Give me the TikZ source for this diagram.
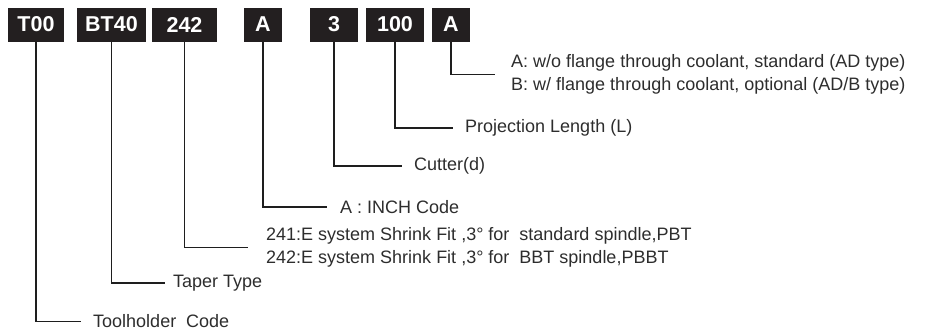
\documentclass[tikz,border=0pt]{standalone}
\usepackage{fontspec}
\setmainfont{Liberation Sans}
\usepackage{tikz}
\usetikzlibrary{positioning}
\definecolor{codeblack}{RGB}{35,31,32}
\definecolor{leadgrey}{RGB}{30,30,30}
\definecolor{txtgrey}{RGB}{45,45,45}

\begin{document}
\begin{tikzpicture}[
    x=1pt, y=-1pt,
    codebox/.style={
        rectangle, fill=codeblack, inner sep=0pt,
        minimum height=34pt,
        font=\fontsize{21.5}{21.5}\selectfont\bfseries,
        text=white
    },
    lead/.style={
        line width=1.8pt, leadgrey
    },
    lbl/.style={
        anchor=west, inner sep=0pt, align=left,
        font=\fontsize{18}{23}\selectfont, text=txtgrey
    }
]
\useasboundingbox (0,0) rectangle (928,330);

% code blocks
\node[codebox, minimum width=56pt] (holder) at (36,24.5) {T00};
\node[codebox, minimum width=69pt] (taper) at (111.5,24.5) {BT40};
\node[codebox, minimum width=65pt] (system) at (184.5,24.5) {242};
\node[codebox, minimum width=38pt] (inch) at (263,24.5) {A};
\node[codebox, minimum width=48pt] (cutter) at (334,24.5) {3};
\node[codebox, minimum width=58pt] (length) at (395,24.5) {100};
\node[codebox, minimum width=38pt] (flange) at (451,24.5) {A};

% explanations
\node[lbl] (holderlbl) at (93,321.5) {Toolholder~ Code};
\node[lbl] (taperlbl) at (173,283) {Taper Type};
\node[lbl] (systemlbl) at (266,247.5)
    {241:E system Shrink Fit ,3° for~ standard spindle,PBT\\
     242:E system Shrink Fit ,3° for~ BBT spindle,PBBT};
\node[lbl] (inchlbl) at (340,207) {A : INCH Code};
\node[lbl] (cutterlbl) at (414,166) {Cutter(d)};
\node[lbl] (lengthlbl) at (465,128) {Projection Length (L)};
\node[lbl] (flangelbl) at (511,74.5)
    {A: w/o flange through coolant, standard (AD type)\\
     B: w/ flange through coolant, optional (AD/B type)};

\draw[lead, shorten >=12pt] (holder.south) |- (holderlbl.west);
\draw[lead, shorten >=8pt] (taper.south) |- (taperlbl.west);
\draw[lead, shorten >=18pt] (system.south) |- (systemlbl.west);
\draw[lead, shorten >=13pt] (inch.south) |- (inchlbl.west);
\draw[lead, shorten >=12pt] (cutter.south) |- (cutterlbl.west);
\draw[lead, shorten >=12pt] (length.south) |- (lengthlbl.west);
\draw[lead, shorten >=16pt] (flange.south) |- (flangelbl.west);

\end{tikzpicture}
\end{document}
